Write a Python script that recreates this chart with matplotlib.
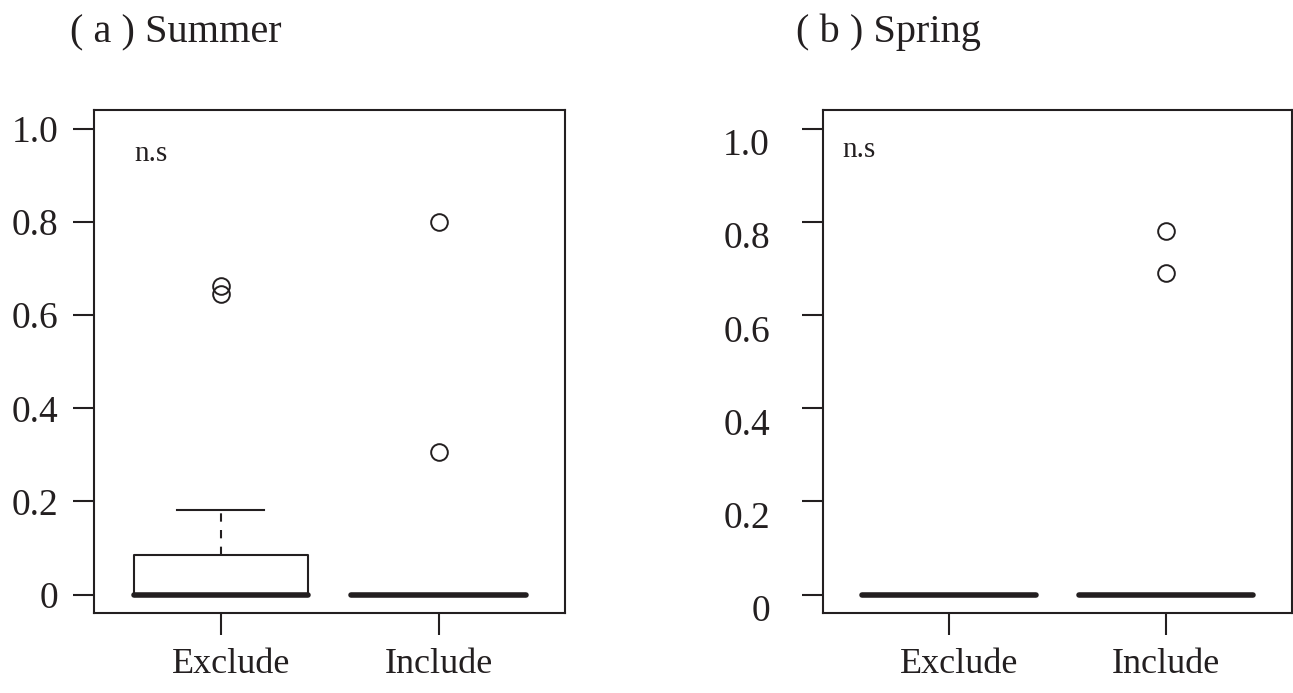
import matplotlib
matplotlib.use('Agg')
import matplotlib.pyplot as plt
import matplotlib.transforms as mtransforms

plt.rcParams['font.family'] = ['Liberation Serif', 'DejaVu Serif']
INK = '#231f20'

groups = ['Exclude', 'Include']
titles = ['( a ) Summer', '( b ) Spring']
yticks = [0, 0.2, 0.4, 0.6, 0.8, 1.0]
ytick_labels = ['0', '0.2', '0.4', '0.6', '0.8', '1.0']

# summer: box stats per group (Exclude, Include)
summer_q1 = [0.0, 0.0]
summer_med = [0.0, 0.0]
summer_q3 = [0.086, 0.0]
summer_whislo = [0.0, 0.0]
summer_whishi = [0.182, 0.0]
summer_fliers = [[0.645, 0.662], [0.307, 0.800]]

# spring
spring_q1 = [0.0, 0.0]
spring_med = [0.0, 0.0]
spring_q3 = [0.0, 0.0]
spring_whislo = [0.0, 0.0]
spring_whishi = [0.0, 0.0]
spring_fliers = [[], [0.691, 0.781]]


def make_stats(q1, med, q3, lo, hi, fl):
    return [dict(q1=q1[i], med=med[i], q3=q3[i], whislo=lo[i], whishi=hi[i],
                 fliers=fl[i]) for i in range(len(groups))]


panels = [
    make_stats(summer_q1, summer_med, summer_q3, summer_whislo, summer_whishi, summer_fliers),
    make_stats(spring_q1, spring_med, spring_q3, spring_whislo, spring_whishi, spring_fliers),
]

W, H = 1293, 693
fig = plt.figure(figsize=(W / 100, H / 100), dpi=100)

# axes boxes in pixels: left, bottom(from top), width, top
boxes = [(94.3, 613.3, 470.7, 110), (822.7, 613.3, 469.5, 110)]
ns_pos = [(0.605, 0.93), (0.51, 0.94)]
ylab_pad = [11, 23]
title_x = [70, 796]

for k, (stats, box) in enumerate(zip(panels, boxes)):
    l, b, w, t = box
    ax = fig.add_axes([l / W, (H - b) / H, w / W, (b - t) / H])
    ax.bxp(stats, positions=[1, 2], widths=0.8, capwidths=0.4,
           boxprops=dict(color=INK, linewidth=1.5),
           whiskerprops=dict(color=INK, linewidth=1.5, linestyle=(0, (4, 4))),
           capprops=dict(color=INK, linewidth=1.5),
           medianprops=dict(color=INK, linewidth=4, solid_capstyle='round'),
           flierprops=dict(marker='o', markerfacecolor='none', markeredgecolor=INK,
                           markersize=12, markeredgewidth=1.4))
    ax.set_xlim(0.42, 2.58)
    ax.set_ylim(-0.04, 1.04)
    ax.set_yticks(yticks)
    ax.set_yticklabels(ytick_labels)
    ax.set_xticks([1, 2])
    ax.set_xticklabels(groups)
    for s in ax.spines.values():
        s.set_linewidth(1.5)
        s.set_color(INK)
    ax.tick_params(axis='y', direction='out', length=15, width=1.5, color=INK,
                   labelsize=27, pad=ylab_pad[k], labelcolor=INK)
    ax.tick_params(axis='x', direction='out', length=16, width=1.5, color=INK,
                   labelsize=26, pad=9, labelcolor=INK)
    if k == 1:
        for lab in ax.get_yticklabels():
            lab.set_verticalalignment('top')
    # Exclude label sits a little right of its tick
    lab = ax.get_xticklabels()[0]
    lab.set_transform(lab.get_transform() +
                      mtransforms.ScaledTranslation(10 / 100, 0, fig.dpi_scale_trans))
    ax.text(ns_pos[k][0], ns_pos[k][1], 'n.s', fontsize=21, color=INK,
            ha='left', va='baseline')
    fig.text(title_x[k] / W, 1 - 42 / H, titles[k], fontsize=29, color=INK,
             ha='left', va='baseline')

fig.savefig('out.png', dpi=100)
